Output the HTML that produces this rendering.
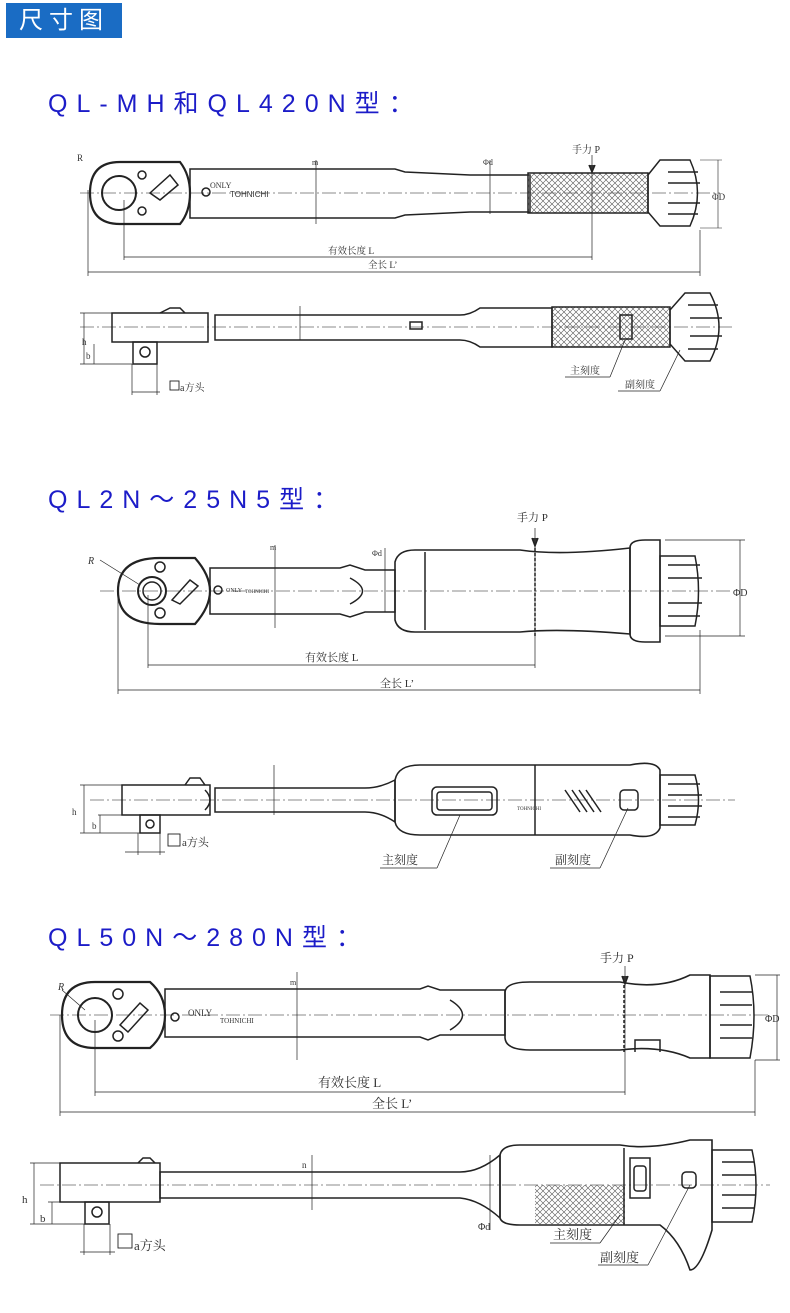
<!DOCTYPE html>
<html><head><meta charset="utf-8"><style>
body{margin:0;width:790px;height:1313px;background:#fff;overflow:hidden;position:relative;font-family:"Liberation Serif","Noto Serif CJK SC",serif}
.hd{position:absolute;left:6px;top:3px;width:116px;height:35px;background:#1a6cc4;color:#fff;font:24px "Liberation Sans","Noto Sans CJK SC",sans-serif;letter-spacing:6px;text-align:center;line-height:35px}
.t{position:absolute;left:48px;color:#1c1cc8;font:25px "Liberation Sans","Noto Sans CJK SC",sans-serif;letter-spacing:9px}
svg{position:absolute;left:0;top:0}
</style></head><body>
<div class="hd">尺寸图</div>
<div class="t" style="top:84px">QL-MH和QL420N型：</div>
<div class="t" style="top:480px">QL2N～25N5型：</div>
<div class="t" style="top:918px">QL50N～280N型：</div>
<svg width="790" height="1313" viewBox="0 0 790 1313" fill="none" stroke="#222" stroke-width="1.5" font-family="Liberation Serif,Noto Serif CJK SC,serif">
<defs>
<pattern id="kn" width="6" height="6" patternUnits="userSpaceOnUse"><path d="M0 0L6 6M6 0L0 6" stroke="#555" stroke-width=".6"/></pattern>
</defs>
<g stroke="#666" stroke-width=".7" stroke-dasharray="14 3 2 3">
<line x1="80" y1="193" x2="720" y2="193"/><line x1="80" y1="327" x2="735" y2="327"/>
<line x1="100" y1="591" x2="730" y2="591"/><line x1="90" y1="800" x2="735" y2="800"/>
<line x1="50" y1="1015" x2="770" y2="1015"/><line x1="40" y1="1185" x2="770" y2="1185"/>
</g>
<!-- S1 top -->
<path d="M120 162 H180 Q190 175 190 193 Q190 212 180 224 H120 Q90 224 90 193 Q90 162 120 162Z" stroke-width="2.2"/>
<circle cx="119" cy="193" r="17" stroke-width="2"/>
<circle cx="142" cy="175" r="4"/><circle cx="142" cy="211" r="4"/>
<path d="M150 193 L170 175 L178 185 L160 200Z"/>
<path d="M190 169 H395 L405 172 L470 175 H530 V212 H470 L405 215 L395 218 H190Z"/>
<rect x="528" y="173" width="120" height="40" fill="url(#kn)"/>
<path d="M648 175 L660 160 H690 Q705 193 690 226 H660 L648 212Z"/>
<path d="M668 172 H698 M668 183 H700 M668 203 H700 M668 214 H698" stroke-width="1.6"/>
<circle cx="206" cy="192" r="4"/>
<text x="210" y="188" font-size="8" fill="#333" stroke="none">ONLY</text>
<text x="230" y="197" font-size="8" fill="#333" stroke="none" font-family="Liberation Sans">TOHNICHI</text>
<line x1="316" y1="160" x2="316" y2="224" stroke-width=".7"/><text x="312" y="165" font-size="8" fill="#333" stroke="none">m</text>
<line x1="490" y1="160" x2="490" y2="214" stroke-width=".7"/><text x="483" y="165" font-size="8" fill="#333" stroke="none">Φd</text>
<line x1="592" y1="155" x2="592" y2="260" stroke-width=".7"/><path d="M589 165 L592 172 L595 165" fill="#333"/>
<text x="572" y="153" font-size="10" fill="#333" stroke="none">手力 P</text>
<line x1="700" y1="160" x2="722" y2="160" stroke-width=".6"/><line x1="700" y1="228" x2="722" y2="228" stroke-width=".6"/><line x1="718" y1="160" x2="718" y2="228" stroke-width=".6"/>
<text x="712" y="200" font-size="9" fill="#333" stroke="none">ΦD</text>
<g stroke-width=".7"><line x1="124" y1="200" x2="124" y2="260"/><line x1="88" y1="190" x2="88" y2="276"/><line x1="700" y1="230" x2="700" y2="276"/>
<line x1="124" y1="257" x2="592" y2="257"/><line x1="88" y1="272" x2="700" y2="272"/></g>
<text x="328" y="254" font-size="9.5" fill="#333" stroke="none">有效长度 L</text>
<text x="368" y="268" font-size="9.5" fill="#333" stroke="none">全长 L’</text>
<text x="77" y="161" font-size="9" fill="#333" stroke="none">R</text>
<!-- S1 side -->
<path d="M112 313 H208 V342 H112Z"/><path d="M160 313 L170 308 H180 L185 313"/>
<rect x="133" y="342" width="24" height="22"/><circle cx="145" cy="352" r="5"/>
<path d="M215 315 H460 Q470 315 480 308 H552 V347 H480 Q470 340 460 340 H215Z"/>
<rect x="552" y="307" width="118" height="40" fill="url(#kn)"/>
<path d="M670 310 L685 293 H710 Q728 327 710 361 H685 L670 344Z"/>
<path d="M688 305 H718 M690 318 H722 M690 336 H722 M688 349 H718" stroke-width="1.6"/>
<rect x="410" y="322" width="12" height="7"/>
<rect x="620" y="315" width="12" height="24"/>
<g stroke-width=".7"><line x1="80" y1="313" x2="112" y2="313"/><line x1="80" y1="364" x2="132" y2="364"/><line x1="84" y1="313" x2="84" y2="364"/>
<line x1="94" y1="344" x2="94" y2="364"/><line x1="132" y1="364" x2="132" y2="395"/><line x1="157" y1="364" x2="157" y2="395"/><line x1="132" y1="392" x2="160" y2="392"/>
<line x1="300" y1="306" x2="300" y2="340"/>
<line x1="565" y1="377" x2="610" y2="377"/><line x1="610" y1="377" x2="625" y2="340"/>
<line x1="618" y1="391" x2="660" y2="391"/><line x1="660" y1="391" x2="680" y2="350"/></g>
<text x="82" y="345" font-size="9" fill="#333" stroke="none">h</text><text x="86" y="359" font-size="9" fill="#333" stroke="none">b</text>
<rect x="170" y="381" width="9" height="9" stroke-width=".9"/><text x="180" y="391" font-size="10" fill="#333" stroke="none">a方头</text>
<text x="570" y="374" font-size="10" fill="#333" stroke="none">主刻度</text>
<text x="625" y="388" font-size="10" fill="#333" stroke="none">副刻度</text>
<!-- S2 top -->
<path d="M160 558 H195 Q210 575 210 591 Q210 607 195 624 H160 Q118 624 118 591 Q118 558 160 558Z" stroke-width="2.2"/>
<circle cx="152" cy="591" r="14" stroke-width="2"/><circle cx="152" cy="591" r="9"/>
<circle cx="160" cy="567" r="5"/><circle cx="160" cy="613" r="5"/><path d="M172 600 L190 580 L198 586 L180 604Z"/>
<path d="M210 568 H340 L350 565 L365 570 H395 V612 H365 L350 617 L340 614 H210Z"/>
<path d="M350 578 Q375 591 350 604"/>
<circle cx="218" cy="590" r="4"/><text x="226" y="592" font-size="6" fill="#333" stroke="none">ONLY</text><text x="245" y="593" font-size="5" fill="#333" stroke="none">TOHNICHI</text>
<path d="M395 562 Q398 550 415 550 H520 Q560 556 630 548 V634 Q560 628 520 632 H415 Q398 632 395 620Z" stroke-width="1.6"/>
<line x1="425" y1="552" x2="425" y2="630"/><line x1="535" y1="548" x2="535" y2="636" stroke-dasharray="3 2"/>
<path d="M630 548 Q630 540 645 540 H660 V642 H645 Q630 642 630 634Z" stroke-width="1.6"/>
<path d="M660 556 H695 Q702 591 695 626 H660Z"/>
<path d="M668 565 H700 M668 578 H702 M668 603 H702 M668 616 H700"/>
<line x1="275" y1="545" x2="275" y2="628" stroke-width=".7"/><text x="270" y="550" font-size="8" fill="#333" stroke="none">m</text>
<line x1="385" y1="548" x2="385" y2="612" stroke-width=".7"/><text x="372" y="556" font-size="8" fill="#333" stroke="none">Φd</text>
<text x="517" y="521" font-size="11" fill="#333" stroke="none">手力 P</text>
<line x1="535" y1="528" x2="535" y2="668" stroke-width=".7"/><path d="M532 538 L535 546 L538 538" fill="#333"/>
<g stroke-width=".7"><line x1="665" y1="540" x2="745" y2="540"/><line x1="665" y1="636" x2="745" y2="636"/><line x1="740" y1="540" x2="740" y2="636"/>
<line x1="148" y1="595" x2="148" y2="668"/><line x1="118" y1="591" x2="118" y2="694"/><line x1="700" y1="630" x2="700" y2="694"/>
<line x1="148" y1="665" x2="535" y2="665"/><line x1="118" y1="690" x2="700" y2="690"/><line x1="100" y1="560" x2="140" y2="585"/></g>
<text x="733" y="596" font-size="10" fill="#333" stroke="none">ΦD</text>
<text x="305" y="661" font-size="11" fill="#333" stroke="none">有效长度 L</text>
<text x="380" y="687" font-size="11" fill="#333" stroke="none">全长 L’</text>
<text x="88" y="564" font-size="10" fill="#333" stroke="none" font-style="italic">R</text>
<!-- S2 side -->
<path d="M122 785 H210 V815 H122Z"/><path d="M185 785 L190 778 H200 L205 785"/>
<path d="M205 790 Q215 800 205 810"/>
<rect x="140" y="815" width="20" height="18"/><circle cx="150" cy="824" r="4"/>
<path d="M215 788 H365 Q380 788 395 780 V822 Q380 812 365 812 H215Z"/>
<path d="M395 780 Q398 765 420 765 H630 Q655 760 660 770 V828 Q655 840 630 835 H420 Q398 835 395 822Z" stroke-width="1.6"/>
<line x1="535" y1="765" x2="535" y2="835"/>
<rect x="432" y="787" width="65" height="28" rx="5"/><rect x="437" y="792" width="55" height="18" rx="3"/>
<path d="M565 790 L580 812 M572 790 L587 812 M579 790 L594 812 M586 790 L601 812"/>
<rect x="620" y="790" width="18" height="20" rx="4"/>
<path d="M660 775 H695 Q702 800 695 825 H660Z"/><path d="M668 784 H700 M668 795 H702 M668 806 H702 M668 817 H700"/>
<text x="517" y="810" font-size="5" fill="#333" stroke="none">TOHNICHI</text>
<g stroke-width=".7"><line x1="80" y1="785" x2="122" y2="785"/><line x1="80" y1="833" x2="140" y2="833"/><line x1="84" y1="785" x2="84" y2="833"/>
<line x1="98" y1="815" x2="140" y2="815"/><line x1="100" y1="815" x2="100" y2="833"/><line x1="138" y1="833" x2="138" y2="855"/><line x1="160" y1="833" x2="160" y2="855"/><line x1="125" y1="852" x2="165" y2="852"/>
<line x1="274" y1="765" x2="274" y2="815"/>
<line x1="380" y1="868" x2="437" y2="868"/><line x1="437" y1="868" x2="460" y2="815"/>
<line x1="550" y1="868" x2="600" y2="868"/><line x1="600" y1="868" x2="628" y2="808"/></g>
<text x="72" y="815" font-size="9" fill="#333" stroke="none">h</text><text x="92" y="829" font-size="9" fill="#333" stroke="none">b</text>
<rect x="168" y="834" width="12" height="12" stroke-width=".9"/><text x="182" y="846" font-size="11" fill="#333" stroke="none">a方头</text>
<text x="382" y="864" font-size="12" fill="#333" stroke="none">主刻度</text>
<text x="555" y="864" font-size="12" fill="#333" stroke="none">副刻度</text>
<!-- S3 top -->
<path d="M95 982 H150 Q165 995 165 1015 Q165 1035 150 1048 H95 Q62 1048 62 1015 Q62 982 95 982Z" stroke-width="2.2"/>
<circle cx="95" cy="1015" r="17" stroke-width="2"/>
<circle cx="118" cy="994" r="5"/><circle cx="118" cy="1036" r="5"/><path d="M120 1025 L140 1003 L148 1010 L128 1032Z"/>
<path d="M165 989 H420 L428 986 L440 990 H505 V1035 H440 L428 1040 L420 1037 H165Z"/>
<path d="M450 1000 Q475 1015 450 1030"/>
<circle cx="175" cy="1017" r="4"/><text x="188" y="1016" font-size="9" fill="#333" stroke="none">ONLY</text><text x="220" y="1023" font-size="7" fill="#333" stroke="none">TOHNICHI</text>
<path d="M505 992 Q506 982 530 982 H620 Q660 990 690 975 H710 V1058 H690 Q660 1045 620 1050 H530 Q506 1050 505 1038Z" stroke-width="1.6"/>
<line x1="624" y1="980" x2="624" y2="1052" stroke-dasharray="3 2"/>
<path d="M635 1052 V1040 H660 V1052"/>
<path d="M710 976 H750 Q758 1015 750 1058 H710Z"/><path d="M720 992 H752 M720 1005 H752 M720 1025 H752 M720 1038 H752"/>
<line x1="297" y1="972" x2="297" y2="1060" stroke-width=".7"/><text x="290" y="985" font-size="8" fill="#333" stroke="none">m</text>
<text x="600" y="962" font-size="12" fill="#333" stroke="none">手力 P</text>
<line x1="625" y1="966" x2="625" y2="1095" stroke-width=".7"/><path d="M622 976 L625 984 L628 976" fill="#333"/>
<g stroke-width=".7"><line x1="755" y1="975" x2="780" y2="975"/><line x1="755" y1="1060" x2="780" y2="1060"/><line x1="777" y1="975" x2="777" y2="1060"/>
<line x1="95" y1="1020" x2="95" y2="1096"/><line x1="60" y1="1015" x2="60" y2="1116"/><line x1="755" y1="1060" x2="755" y2="1116"/>
<line x1="95" y1="1092" x2="625" y2="1092"/><line x1="60" y1="1112" x2="755" y2="1112"/><line x1="62" y1="990" x2="85" y2="1010"/></g>
<text x="765" y="1022" font-size="10" fill="#333" stroke="none">ΦD</text>
<text x="318" y="1087" font-size="13" fill="#333" stroke="none">有效长度 L</text>
<text x="372" y="1108" font-size="13" fill="#333" stroke="none">全长 L’</text>
<text x="58" y="990" font-size="10" fill="#333" stroke="none" font-style="italic">R</text>
<!-- S3 side -->
<path d="M60 1163 H160 V1202 H60Z"/><path d="M138 1163 L143 1158 H150 L155 1163"/>
<rect x="85" y="1202" width="24" height="22"/><circle cx="97" cy="1212" r="5"/>
<path d="M160 1172 H460 Q480 1172 500 1155 V1218 Q480 1200 460 1198 H160Z"/>
<path d="M500 1155 Q502 1145 520 1145 H620 Q650 1150 690 1140 H712 V1230 Q700 1270 690 1270 Q680 1240 660 1225 H520 Q502 1225 500 1218Z" stroke-width="1.6"/>
<rect x="535" y="1185" width="90" height="40" fill="url(#kn)" stroke="none"/>
<line x1="624" y1="1148" x2="624" y2="1225"/>
<rect x="630" y="1158" width="20" height="40"/><rect x="634" y="1166" width="12" height="25" rx="3"/>
<rect x="682" y="1172" width="14" height="16" rx="4"/>
<path d="M712 1150 H752 Q760 1185 752 1222 H712Z"/><path d="M722 1162 H754 M722 1175 H756 M722 1195 H756 M722 1208 H754"/>
<g stroke-width=".7"><line x1="30" y1="1163" x2="60" y2="1163"/><line x1="30" y1="1224" x2="85" y2="1224"/><line x1="34" y1="1163" x2="34" y2="1224"/>
<line x1="48" y1="1202" x2="85" y2="1202"/><line x1="52" y1="1202" x2="52" y2="1224"/><line x1="84" y1="1224" x2="84" y2="1255"/><line x1="110" y1="1224" x2="110" y2="1255"/><line x1="80" y1="1252" x2="115" y2="1252"/>
<line x1="312" y1="1155" x2="312" y2="1210"/><line x1="490" y1="1155" x2="490" y2="1230"/>
<line x1="550" y1="1243" x2="600" y2="1243"/><line x1="600" y1="1243" x2="620" y2="1215"/>
<line x1="598" y1="1265" x2="648" y2="1265"/><line x1="648" y1="1265" x2="690" y2="1185"/></g>
<text x="22" y="1203" font-size="11" fill="#333" stroke="none">h</text><text x="40" y="1222" font-size="11" fill="#333" stroke="none">b</text>
<text x="302" y="1168" font-size="9" fill="#333" stroke="none">n</text><text x="478" y="1230" font-size="10" fill="#333" stroke="none">Φd</text>
<rect x="118" y="1234" width="14" height="14" stroke-width=".9"/><text x="134" y="1250" font-size="13" fill="#333" stroke="none">a方头</text>
<text x="553" y="1239" font-size="13" fill="#333" stroke="none">主刻度</text>
<text x="600" y="1262" font-size="13" fill="#333" stroke="none">副刻度</text>
</svg>
</body></html>
